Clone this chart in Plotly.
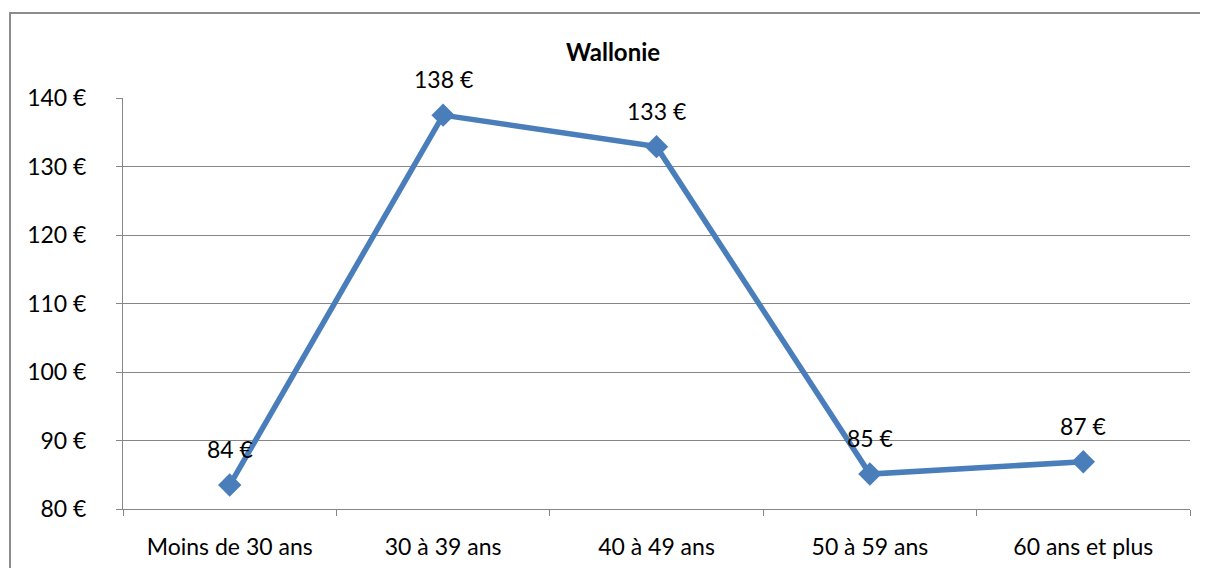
import plotly.graph_objects as go

categories = ["Moins de 30 ans", "30 à 39 ans", "40 à 49 ans", "50 à 59 ans", "60 ans et plus"]
values = [83.5, 137.5, 132.9, 85.1, 86.9]
labels = ["84 €", "138 €", "133 €", "85 €", "87 €"]
y_ticks = [80, 90, 100, 110, 120, 130, 140]
y_tick_text = [f"{v} €" for v in y_ticks]

FONT = "Lato"
LINE = "#4A7EBB"
GRID = "#868686"
FS = 23

# page body adds an 8px offset; plot area target: x 123..1190, y 98..509
OFF = 8
L, R, T, B = 123 - OFF, 1208 + OFF - 1190, 98 - OFF, 568 + OFF - 509
PW, PH = 1190 - 123, 509 - 98

fig = go.Figure()
fig.add_trace(go.Scatter(
    x=categories, y=values, mode="lines+markers",
    line=dict(color=LINE, width=5.5),
    marker=dict(symbol="diamond", size=18, color=LINE),
    hoverinfo="skip", showlegend=False,
))

for c, v, t in zip(categories, values, labels):
    fig.add_annotation(x=c, y=v, text=t, showarrow=False, yshift=36,
                       font=dict(family=FONT, size=FS, color="#000000"))

fig.add_annotation(x=(613 - 123) / PW, y=1 + (98 - 51) / PH, xref="paper", yref="paper",
                   xanchor="center", yanchor="middle",
                   text="<b>Wallonie</b>", showarrow=False,
                   font=dict(family=FONT, size=24, color="#000000"))

fig.update_layout(
    width=1208, height=568,
    margin=dict(l=L, r=R, t=T, b=B),
    paper_bgcolor="white", plot_bgcolor="white",
    font=dict(family=FONT, size=FS, color="#000000"),
    xaxis=dict(
        type="category", tickson="boundaries", ticks="outside", ticklen=6,
        tickcolor=GRID, showgrid=False, showline=True, linecolor=GRID, linewidth=1,
        tickfont=dict(family=FONT, size=FS), ticklabelstandoff=17,
        range=[-0.5, 4.5],
    ),
    yaxis=dict(
        range=[80, 140], tickvals=y_ticks, ticktext=y_tick_text,
        ticks="outside", ticklen=6, tickcolor=GRID,
        showgrid=True, gridcolor=GRID, gridwidth=1,
        showline=True, linecolor=GRID, linewidth=1, zeroline=False,
        tickfont=dict(family=FONT, size=FS), ticklabelstandoff=25,
    ),
    shapes=[dict(type="rect", xref="paper", yref="paper",
                 x0=(10 - 123) / PW, x1=1.2, y0=-0.4, y1=1 + (98 - 13) / PH,
                 line=dict(color="#8C8C8C", width=2), fillcolor="rgba(0,0,0,0)", layer="below")],
)

fig.write_html("out.html")
